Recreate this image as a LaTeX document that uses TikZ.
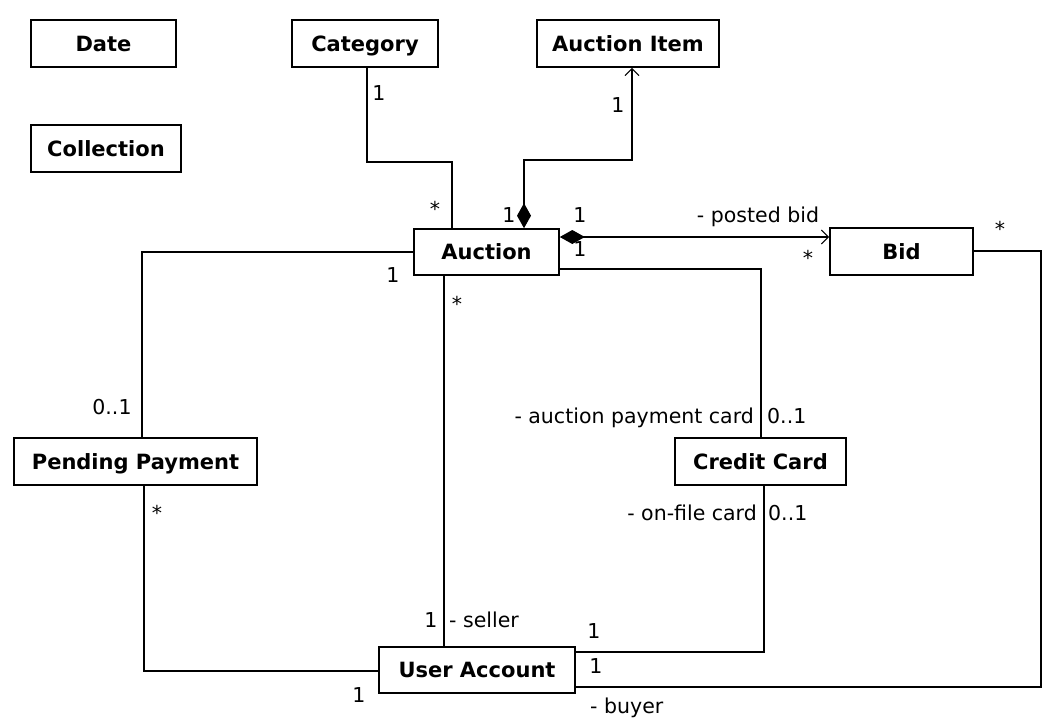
\documentclass[tikz,border=0pt]{standalone}
\usepackage{fontspec}
\setmainfont{DejaVu Sans}
\usetikzlibrary{arrows.meta}
\tikzset{
  cls/.style={draw, line width=1.6pt, inner sep=0pt, text height=15pt, text depth=0pt, font=\fontsize{21}{24}\selectfont\bfseries},
  lbl/.style={inner sep=0pt, anchor=base, font=\fontsize{20.5}{24}\selectfont},
  assoc/.style={line width=1.6pt},
  comp/.style={assoc, {Diamond[length=25pt,width=14pt]}-{Straight Barb[length=7pt,width=14pt,line width=1.1pt]}}
}
\begin{document}
\begin{tikzpicture}[x=1pt,y=-1pt]
\useasboundingbox[fill=white] (0,0) rectangle (1046,720);
% classes
\node[cls, minimum width=145pt, minimum height=47pt] (date) at (103.5,43.5) {Date};
\node[cls, minimum width=150pt, minimum height=47pt] (coll) at (106,148.5) {Collection};
\node[cls, minimum width=146pt, minimum height=47pt] (cat) at (365,43.5) {Category};
\node[cls, minimum width=182pt, minimum height=47pt] (ait) at (628,43.5) {Auction Item};
\node[cls, minimum width=145pt, minimum height=46pt] (auc) at (486.5,252) {Auction};
\node[cls, minimum width=143pt, minimum height=47pt] (bid) at (901.5,251.5) {Bid};
\node[cls, minimum width=243pt, minimum height=47pt] (pp) at (135.5,461.5) {Pending Payment};
\node[cls, minimum width=171pt, minimum height=47pt] (cc) at (760.5,461.5) {Credit Card};
\node[cls, minimum width=196pt, minimum height=46pt] (ua) at (477,670) {User Account};
% corner coordinates
\coordinate (c1) at (367,162);
\coordinate (c2) at (524,160);
\coordinate (c3) at (1041,251);
% connectors
\draw[assoc] (cat.south -| c1) -- (c1) -| (auc.north -| 452,0);
\draw[comp] (auc.north -| c2) -- (c2) -| (ait.south -| 632,0);
\draw[comp] (auc.east |- 0,237) -- (bid.west |- 0,237);
\draw[assoc] (auc.east |- 0,269) -| (cc.north -| 761,0);
\draw[assoc] (auc.west |- 0,252) -| (pp.north -| 142,0);
\draw[assoc] (auc.south -| 444,0) -- (ua.north -| 444,0);
\draw[assoc] (pp.south -| 144,0) |- (ua.west |- 0,671);
\draw[assoc] (ua.east |- 0,652) -| (cc.south -| 764,0);
\draw[assoc] (ua.east |- 0,687) -| (c3) -- (bid.east |- c3);
% labels
\node[lbl] (l1) at (379,100) {1};
\node[lbl] (l2) at (435,216) {*};
\node[lbl] (l3) at (618,112) {1};
\node[lbl] (l4) at (509,222) {1};
\node[lbl] (l5) at (580,222) {1};
\node[lbl] (l6) at (580,256) {1};
\node[lbl] (l7) at (758,222) {- posted bid};
\node[lbl] (l8) at (808,265) {*};
\node[lbl] (l9) at (1000,236) {*};
\node[lbl] (l10) at (393,282) {1};
\node[lbl] (l11) at (112,414) {0..1};
\node[lbl] (l12) at (157,520) {*};
\node[lbl] (l13) at (359,702) {1};
\node[lbl] (l14) at (457,311) {*};
\node[lbl] (l15) at (431,627) {1};
\node[lbl, anchor=base west] (l16) at (449,627) {- seller};
\node[lbl, anchor=base east] (l17) at (754,423) {- auction payment card};
\node[lbl, anchor=base west] (l18) at (767,423) {0..1};
\node[lbl, anchor=base east] (l19) at (757,520) {- on-file card};
\node[lbl, anchor=base west] (l20) at (768,520) {0..1};
\node[lbl] (l21) at (594,638) {1};
\node[lbl] (l22) at (596,673) {1};
\node[lbl, anchor=base west] (l23) at (590,713) {- buyer};
\end{tikzpicture}
\end{document}
